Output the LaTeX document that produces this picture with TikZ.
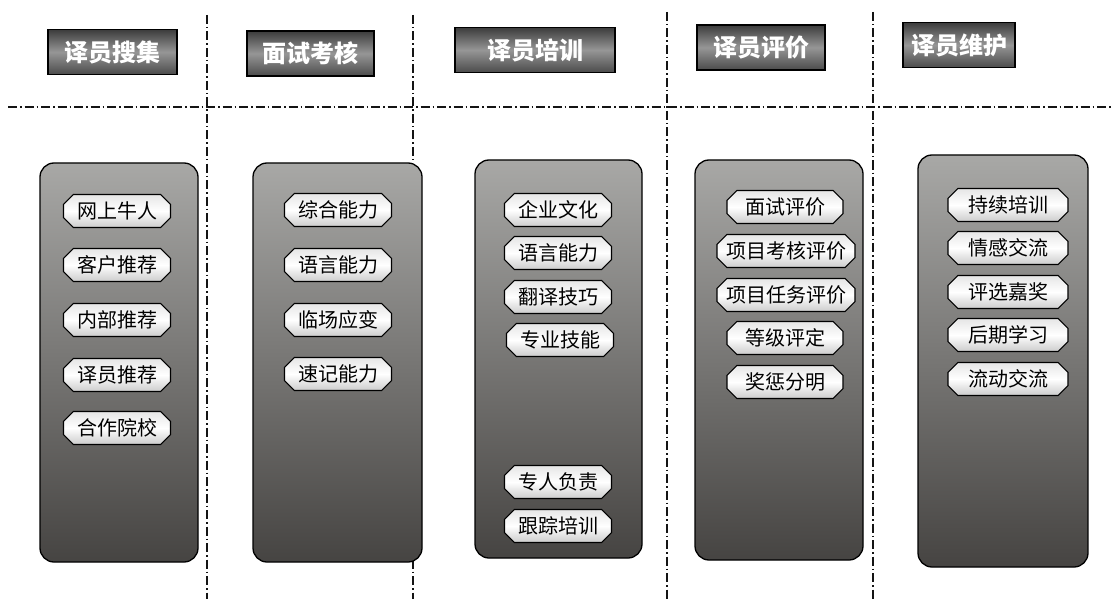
\documentclass[tikz,border=0pt]{standalone}
\usepackage{fontspec}
\newfontfamily\cjk{Noto Sans CJK SC}
\usetikzlibrary{shapes.misc}
\definecolor{pantop}{RGB}{168,168,166}
\definecolor{panbot}{RGB}{70,68,66}
\definecolor{hdtop}{RGB}{60,60,60}
\definecolor{hdmid}{RGB}{150,150,150}
\definecolor{hdbot}{RGB}{75,75,75}
\definecolor{lnclr}{RGB}{20,20,20}
\begin{document}
\begin{tikzpicture}[x=1pt,y=-1pt,
  panel/.style={draw=black, line width=1.3pt, rounded corners=14pt,
    top color=pantop, bottom color=panbot, inner sep=0pt},
  header/.style={draw=black, line width=1.2pt, top color=hdtop, bottom color=hdbot,
    middle color=hdmid, text=white, inner sep=0pt, minimum height=45pt,
    font=\cjk\bfseries\fontsize{24}{24}\selectfont},
  pill/.style={chamfered rectangle, chamfered rectangle xsep=7pt,
    draw=black, line width=1.2pt, top color=gray!20, bottom color=gray!40,
    middle color=white, inner sep=0pt, minimum height=33pt,
    font=\cjk\fontsize{20}{20}\selectfont},
  sep/.style={draw=lnclr, line width=1.5pt, dash pattern=on 9pt off 3pt on 1.5pt off 3pt}
]
\useasboundingbox (0,0) rectangle (1111,599);
\fill[white] (0,0) rectangle (1111,599);

% separators
\coordinate (hl) at (8,107);
\coordinate (hr) at (1111,107);
\draw[sep] (hl) -- (hr);
\coordinate (v1t) at (207,15);  \coordinate (v1b) at (207,599);
\coordinate (v2t) at (413,15);  \coordinate (v2b) at (413,599);
\coordinate (v3t) at (667,12);  \coordinate (v3b) at (667,599);
\coordinate (v4t) at (873,12);  \coordinate (v4b) at (873,599);
\draw[sep] (v1t) -- (v1b);
\draw[sep] (v2t) -- (v2b);
\draw[sep] (v3t) -- (v3b);
\draw[sep] (v4t) -- (v4b);

% headers
\node[header, minimum width=129pt] (h1) at (112.5,52) {译员搜集};
\node[header, minimum width=127pt] (h2) at (310.5,53.5) {面试考核};
\node[header, minimum width=160pt] (h3) at (535,50) {译员培训};
\node[header, minimum width=128pt] (h4) at (761,47.5) {译员评价};
\node[header, minimum width=112pt] (h5) at (959,45) {译员维护};

% panels
\node[panel, minimum width=158pt, minimum height=399pt] (p1) at (119,362.5) {};
\node[panel, minimum width=169pt, minimum height=399pt] (p2) at (337.5,362.5) {};
\node[panel, minimum width=167pt, minimum height=398pt] (p3) at (558.5,359) {};
\node[panel, minimum width=168pt, minimum height=400pt] (p4) at (779,360) {};
\node[panel, minimum width=170pt, minimum height=412pt] (p5) at (1003,361) {};

% column 1
\node[pill, minimum width=107pt] (a1) at (117,211) {网上牛人};
\node[pill, minimum width=107pt] (a2) at (117,265) {客户推荐};
\node[pill, minimum width=107pt] (a3) at (117,320) {内部推荐};
\node[pill, minimum width=107pt] (a4) at (117,375) {译员推荐};
\node[pill, minimum width=107pt] (a5) at (117,428) {合作院校};

% column 2
\node[pill, minimum width=107pt] (b1) at (338,210) {综合能力};
\node[pill, minimum width=107pt] (b2) at (338,265) {语言能力};
\node[pill, minimum width=107pt] (b3) at (338,320) {临场应变};
\node[pill, minimum width=107pt] (b4) at (338,374) {速记能力};

% column 3
\node[pill, minimum width=107pt] (c1) at (558,210) {企业文化};
\node[pill, minimum width=107pt] (c2) at (558,253) {语言能力};
\node[pill, minimum width=107pt] (c3) at (558,297) {翻译技巧};
\node[pill, minimum width=107pt] (c4) at (560,340) {专业技能};
\node[pill, minimum width=107pt] (c5) at (558,482) {专人负责};
\node[pill, minimum width=107pt] (c6) at (558,526) {跟踪培训};

% column 4
\node[pill, minimum width=116pt] (d1) at (785,207) {面试评价};
\node[pill, minimum width=138pt] (d2) at (786,251) {项目考核评价};
\node[pill, minimum width=138pt] (d3) at (786,295) {项目任务评价};
\node[pill, minimum width=116pt] (d4) at (785,338) {等级评定};
\node[pill, minimum width=116pt] (d5) at (785,382) {奖惩分明};

% column 5
\node[pill, minimum width=120pt] (e1) at (1008,205) {持续培训};
\node[pill, minimum width=120pt] (e2) at (1008,248) {情感交流};
\node[pill, minimum width=120pt] (e3) at (1008,292) {评选嘉奖};
\node[pill, minimum width=120pt] (e4) at (1008,335) {后期学习};
\node[pill, minimum width=120pt] (e5) at (1008,379) {流动交流};
\end{tikzpicture}
\end{document}
